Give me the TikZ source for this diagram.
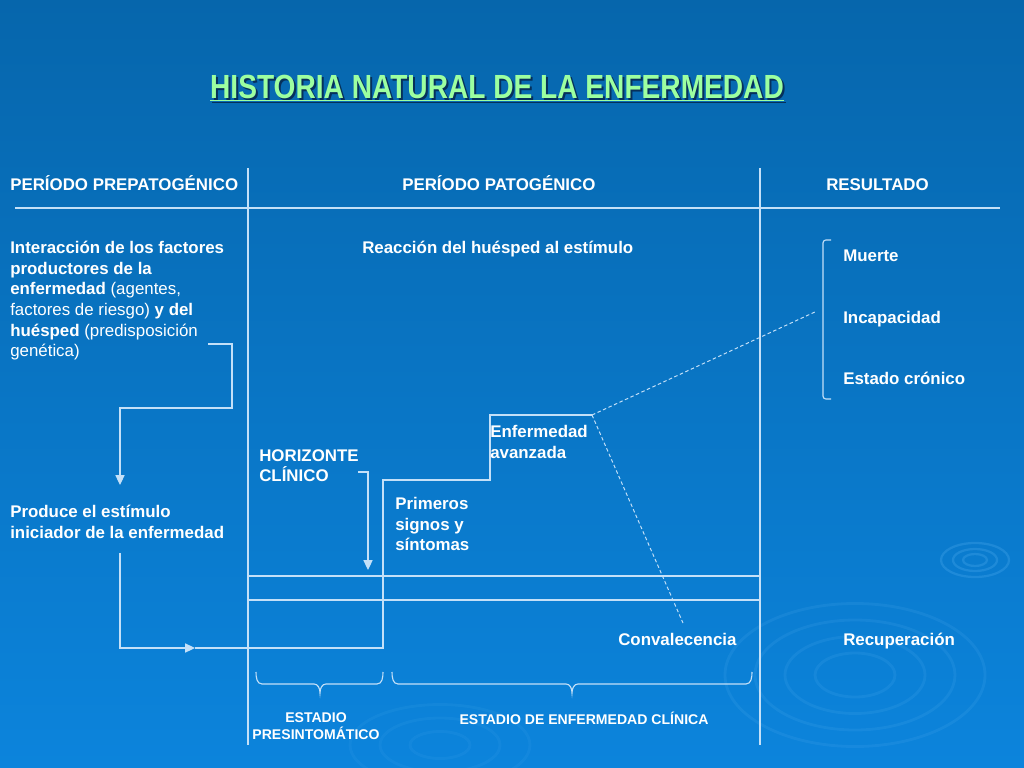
\documentclass[tikz,border=0pt]{standalone}
\usepackage{fontspec}
\setmainfont{Liberation Sans}
\usetikzlibrary{arrows.meta}
\definecolor{bgtop}{HTML}{0666AC}
\definecolor{bgbot}{HTML}{0C84DC}
\definecolor{lineblue}{HTML}{C4E0F8}
\definecolor{titlegreen}{HTML}{9CFFA0}
\definecolor{titleshade}{HTML}{06305A}
\definecolor{ripple}{HTML}{5AB4F4}

\begin{document}
\begin{tikzpicture}[x=0.025cm,y=-0.025cm,
  txt/.style={text=white,font=\bfseries\fontsize{12}{14.65}\selectfont,inner sep=0pt,align=left},
  smalltxt/.style={text=white,font=\bfseries\fontsize{10}{12.1}\selectfont,inner sep=0pt,align=center},
  rule/.style={draw=lineblue,line width=0.8pt},
  dashline/.style={draw=lineblue,line width=0.7pt,dash pattern=on 2.5pt off 1.8pt},
  tip/.style={-{Triangle[width=6.5pt,length=7pt]}}]
\shade[top color=bgtop,bottom color=bgbot] (0,0) rectangle (1024,768);
\useasboundingbox (0,0) rectangle (1024,768);

% ripples
\foreach \r in {12,22,34}
  \draw[ripple,opacity=0.25,line width=1.6pt] (975,560) ellipse ({\r} and {\r*0.5});
\foreach \r in {40,70,100,130}
  \draw[ripple,opacity=0.14,line width=2pt] (855,675) ellipse ({\r} and {\r*0.55});
\foreach \r in {30,60,90}
  \draw[ripple,opacity=0.1,line width=2pt] (440,745) ellipse ({\r} and {\r*0.45});

% title
\node[text=titleshade,font=\bfseries\fontsize{23.8}{28}\selectfont] (titleshadow) at (499,90)
  {\scalebox{0.84}[1]{\underline{HISTORIA NATURAL DE LA ENFERMEDAD}}};
\node[text=titlegreen,font=\bfseries\fontsize{23.8}{28}\selectfont] (title) at (497,88)
  {\scalebox{0.84}[1]{\underline{HISTORIA NATURAL DE LA ENFERMEDAD}}};

% frame
\draw[rule] (248,168) -- (248,745);
\draw[rule] (760,168) -- (760,745);
\draw[rule] (15,208) -- (1000,208);
\draw[rule] (248,576) -- (760,576);
\draw[rule] (248,600) -- (760,600);

% headings
\node[txt,anchor=base west] (prepat) at (10,190) {PERÍODO PREPATOGÉNICO};
\node[txt,anchor=base west] (pat) at (402,190) {PERÍODO PATOGÉNICO};
\node[txt,anchor=base west] (result) at (826,190) {RESULTADO};

% texts
\node[txt,anchor=north west] (inter) at (10,241) {Interacción de los factores\\
  productores de la\\ enfermedad \mdseries(agentes,\\
  \mdseries factores de riesgo) \bfseries y del\\
  huésped \mdseries(predisposición\\ \mdseries genética)};
\node[txt,anchor=base west] (reac) at (362,253) {Reacción del huésped al estímulo};
\node[txt,anchor=north west] (produce) at (10,505) {Produce el estímulo\\ iniciador de la enfermedad};
\node[txt,anchor=north west] (horiz) at (259,449) {HORIZONTE\\ CLÍNICO};
\node[txt,anchor=north west] (signos) at (395,497) {Primeros\\ signos y\\ síntomas};
\node[txt,anchor=north west] (avanz) at (490,425) {Enfermedad\\ avanzada};
\node[txt,anchor=base west] (muerte) at (843,261) {Muerte};
\node[txt,anchor=base west] (incap) at (843,323) {Incapacidad};
\node[txt,anchor=base west] (cronico) at (843,384) {Estado crónico};
\node[txt,anchor=base west] (conval) at (618,645) {Convalecencia};
\node[txt,anchor=base west] (recup) at (843,645) {Recuperación};
\node[smalltxt,anchor=north] (presint) at (316,712) {ESTADIO\\ PRESINTOMÁTICO};
\node[smalltxt,anchor=north] (clinica) at (584,712) {ESTADIO DE ENFERMEDAD CLÍNICA};

% flow on the left
\coordinate (a0) at (208,344);
\coordinate (a1) at (120,485);
\draw[rule,tip] (a0) -- (232,344) -- (232,408) -- (120,408) -- (a1);
\coordinate (b0) at (120,553);
\coordinate (bmid) at (195,648);
\draw[rule,tip] (b0) -- (120,648) -- (bmid);

% staircase
\coordinate (peak) at (592,415);
\draw[rule] (bmid) -- (383,648) -- (383,480) -- (490,480) -- (490,415) -- (peak);

% horizonte arrow
\draw[rule,tip] (358,472) -- (368,472) -- (368,570);

% dashed outcomes
\coordinate (toincap) at (817,311);
\coordinate (toconval) at (683,623);
\draw[dashline] (peak) -- (toincap);
\draw[dashline] (peak) -- (toconval);

% bracket of results
\draw[rule,rounded corners=2pt] (831,240) -- (823,240) -- (823,399) -- (831,399);

% braces
\draw[rule] (256,672) to[out=-90,in=180] (262,684) -- (314,684)
  to[out=0,in=90] (320,693) to[out=90,in=180] (326,684) -- (377,684)
  to[out=0,in=-90] (383,672);
\draw[rule] (392,672) to[out=-90,in=180] (398,684) -- (566,684)
  to[out=0,in=90] (572,693) to[out=90,in=180] (578,684) -- (746,684)
  to[out=0,in=-90] (752,672);
\end{tikzpicture}
\end{document}
